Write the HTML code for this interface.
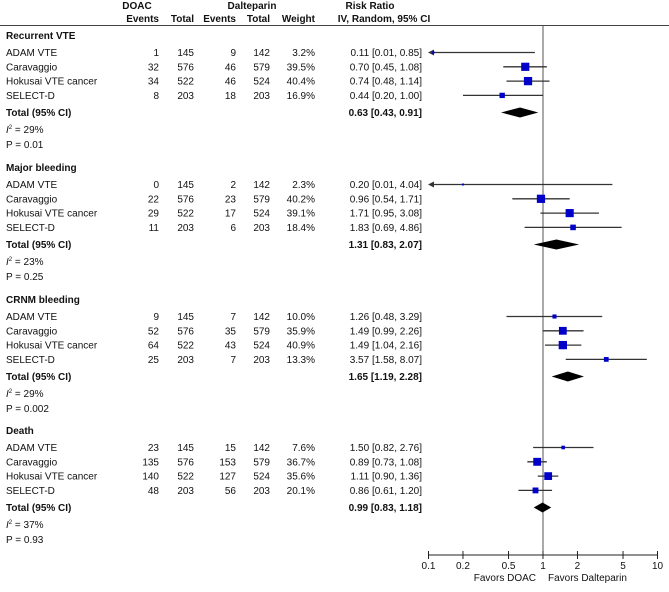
<!DOCTYPE html>
<html><head><meta charset="utf-8"><style>
body{margin:0;background:#fff}
svg text{font-family:"Liberation Sans",sans-serif;font-size:10px;fill:#111}
.b{font-weight:bold}
</style></head><body>
<svg id="c" width="669" height="587" xmlns="http://www.w3.org/2000/svg"></svg>
<script>
const sections=["Recurrent VTE","Major bleeding","CRNM bleeding","Death"];
const studies=["ADAM VTE","Caravaggio","Hokusai VTE cancer","SELECT-D"];
const doacEvents=[[1,32,34,8],[0,22,29,11],[9,52,64,25],[23,135,140,48]];
const doacTotal=[145,576,522,203];
const daltEvents=[[9,46,46,18],[2,23,17,6],[7,35,43,7],[15,153,127,56]];
const daltTotal=[142,579,524,203];
const weights=[[3.2,39.5,40.4,16.9],[2.3,40.2,39.1,18.4],[10.0,35.9,40.9,13.3],[7.6,36.7,35.6,20.1]];
const rr=[[0.11,0.70,0.74,0.44],[0.20,0.96,1.71,1.83],[1.26,1.49,1.49,3.57],[1.50,0.89,1.11,0.86]];
const lo=[[0.01,0.45,0.48,0.20],[0.01,0.54,0.95,0.69],[0.48,0.99,1.04,1.58],[0.82,0.73,0.90,0.61]];
const hi=[[0.85,1.08,1.14,1.00],[4.04,1.71,3.08,4.86],[3.29,2.26,2.16,8.07],[2.76,1.08,1.36,1.20]];
const totRR=[0.63,1.31,1.65,0.99];
const totLo=[0.43,0.83,1.19,0.83];
const totHi=[0.91,2.07,2.28,1.18];
const i2=[29,23,29,37];
const pvals=["0.01","0.25","0.002","0.93"];
const ticks=[0.1,0.2,0.5,1,2,5,10];

const svg=document.getElementById('c');
const NS="http://www.w3.org/2000/svg";
const X0=543,DEC=114.5,XMIN=428,XMAX=657,AXY=555;
function xs(v){return X0+Math.log10(v)*DEC;}
function el(tag,attrs,txt){const e=document.createElementNS(NS,tag);for(const k in attrs)e.setAttribute(k,attrs[k]);if(txt!==undefined)e.textContent=txt;svg.appendChild(e);return e;}
function t(x,y,s,anchor,name,cls){const e=el('text',{x:x,y:y,'text-anchor':anchor||'start'},s);if(cls)e.setAttribute('class',cls);

return e;}

t(137,9,"DOAC","middle","doac-header","b");
t(252,9,"Dalteparin","middle","dalteparin-header","b");
t(370,9,"Risk Ratio","middle","risk-ratio-header","b");
t(159,22,"Events","end","doac-events-header","b");
t(194,22,"Total","end","doac-total-header","b");
t(236,22,"Events","end","dalt-events-header","b");
t(270,22,"Total","end","dalt-total-header","b");
t(315,22,"Weight","end","weight-header","b");
t(384,22,"IV, Random, 95% CI","middle","ci-header","b");
let ln=el('line',{x1:0,y1:25.5,x2:669,y2:25.5,stroke:'#444','stroke-width':1});


ln=el('line',{x1:X0,y1:26,x2:X0,y2:AXY,stroke:'#555','stroke-width':1});



const H=[35,167,299,430];
function fmt(v){return v.toFixed(2);}
sections.forEach((s,si)=>{
  const h=H[si]+4;
  t(6,h,s,"start","section-title","b");
  studies.forEach((st,j)=>{
    const y=h+17+14.3*j;
    t(6,y,st,"start","study-label");
    t(159,y,doacEvents[si][j],"end","doac-events");
    t(194,y,doacTotal[j],"end","doac-total");
    t(236,y,daltEvents[si][j],"end","dalt-events");
    t(270,y,daltTotal[j],"end","dalt-total");
    t(315,y,weights[si][j].toFixed(1)+"%","end","weight");
    t(422,y,fmt(rr[si][j])+" ["+fmt(lo[si][j])+", "+fmt(hi[si][j])+"]","end","risk-ratio-ci");
    const cy=y-3.5;
    let x1=xs(lo[si][j]),x2=xs(hi[si][j]);
    const clip=x1<XMIN;x1=Math.max(x1,XMIN+2);
    const l=el('line',{x1:x1,y1:cy,x2:Math.min(x2,XMAX),y2:cy,stroke:'#333','stroke-width':1.3});
    
    
    if(clip){const a=el('path',{d:`M${XMIN} ${cy} l6 -3 l0 6 z`,fill:'#333'});
      
      }
    const sz=Math.max(2,1.3*Math.sqrt(weights[si][j]));
    const r=el('rect',{x:xs(rr[si][j])-sz/2,y:cy-sz/2,width:sz,height:sz,fill:'#0000c8'});
    
    
  });
  const ty=h+77;
  t(6,ty,"Total (95% CI)","start","total-label","b");
  t(422,ty,fmt(totRR[si])+" ["+fmt(totLo[si])+", "+fmt(totHi[si])+"]","end","total-ci","b");
  const dy=ty-3.5;
  const d=el('path',{d:`M${xs(totLo[si])} ${dy} L${xs(totRR[si])} ${dy-5} L${xs(totHi[si])} ${dy} L${xs(totRR[si])} ${dy+5} Z`,fill:'#000'});
  
  
  const it=t(6,ty+17,"","start","heterogeneity-i2");
  it.innerHTML='<tspan font-style="italic">I</tspan><tspan dy="-4" font-size="6">2</tspan><tspan dy="4"> = '+i2[si]+'%</tspan>';
  t(6,ty+32,"P = "+pvals[si],"start","p-value");
});

ln=el('line',{x1:XMIN,y1:AXY,x2:XMAX,y2:AXY,stroke:'#222','stroke-width':1});


ticks.forEach(v=>{
  const tk=el('line',{x1:xs(v),y1:AXY-4,x2:xs(v),y2:AXY+4,stroke:'#222','stroke-width':1});
  
  
  t(xs(v),AXY+14,String(v),"middle","x-tick-label");
});
t(536,AXY+26,"Favors DOAC","end","favors-doac-label");
t(548,AXY+26,"Favors Dalteparin","start","favors-dalteparin-label");
</script>
</body></html>
